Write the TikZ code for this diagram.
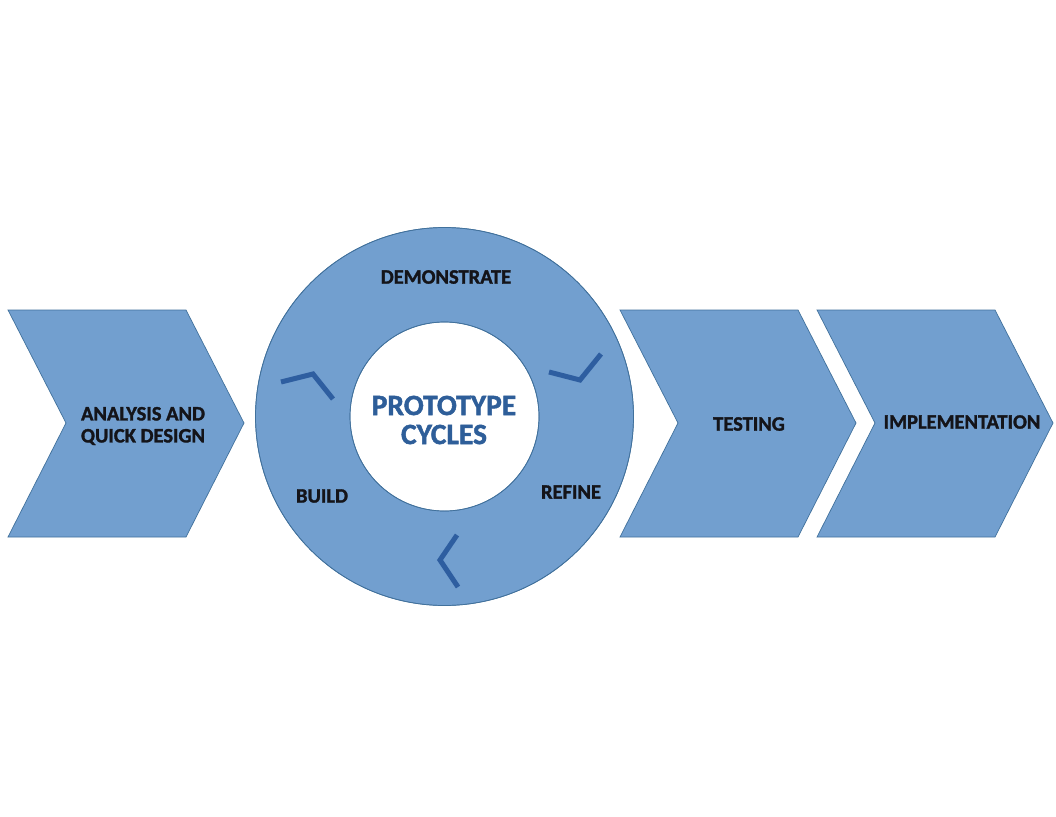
\documentclass[tikz,border=0pt]{standalone}
\usepackage{fontspec}
\setmainfont{Carlito}[BoldFeatures={FakeBold=1.5}]
\begin{document}
\begin{tikzpicture}[x=1pt,y=-1pt,
  shapefill/.style={fill={rgb,255:red,114;green,159;blue,207}, draw={rgb,255:red,65;green,113;blue,156}, line width=0.7pt},
  steplabel/.style={font=\bfseries\fontsize{20.5}{22}\selectfont, text={rgb,255:red,20;green,20;blue,25}, align=center, inner sep=0pt},
  centerlabel/.style={font=\bfseries\fontsize{29.5}{29}\selectfont, text={rgb,255:red,46;green,94;blue,153}, align=center, inner sep=0pt},
  cyclemark/.style={draw={rgb,255:red,46;green,94;blue,160}, line width=5pt, line join=miter}]
  \useasboundingbox[fill=white] (0,0) rectangle (1056,816);

  % chevrons of the process
  \draw[shapefill] (8,310) -- (186,310) -- (244,423) -- (186,537) -- (8,537) -- (66,423) -- cycle;
  \draw[shapefill] (620,310) -- (798,310) -- (856,423) -- (798,537) -- (620,537) -- (678,423) -- cycle;
  \draw[shapefill] (817,310) -- (995,310) -- (1053,423) -- (995,537) -- (817,537) -- (875,423) -- cycle;

  % prototype ring
  \fill[shapefill, even odd rule] (444.5,416.5) circle (189) (444.5,416.5) circle (94.5);
  \draw[draw={rgb,255:red,65;green,113;blue,156}, line width=0.7pt] (444.5,416.5) circle (189) (444.5,416.5) circle (94.5);

  % cycle marks around the ring
  \draw[cyclemark] (281,382) -- (313,374) -- (333,399);
  \draw[cyclemark] (549,372) -- (580,380) -- (601,354);
  \draw[cyclemark] (457,535) -- (440,560) -- (458,587);

  % labels
  \node[steplabel] (analysis) at (143,426) {ANALYSIS AND\\QUICK DESIGN};
  \node[steplabel] (demo) at (446,277) {DEMONSTRATE};
  \node[steplabel] (build) at (322,496) {BUILD};
  \node[steplabel] (refine) at (571,492) {REFINE};
  \node[steplabel] (testing) at (749,424) {TESTING};
  \node[steplabel] (impl) at (962,422) {IMPLEMENTATION};
  \node[centerlabel] (proto) at (444,420) {PROTOTYPE\\CYCLES};
\end{tikzpicture}
\end{document}
